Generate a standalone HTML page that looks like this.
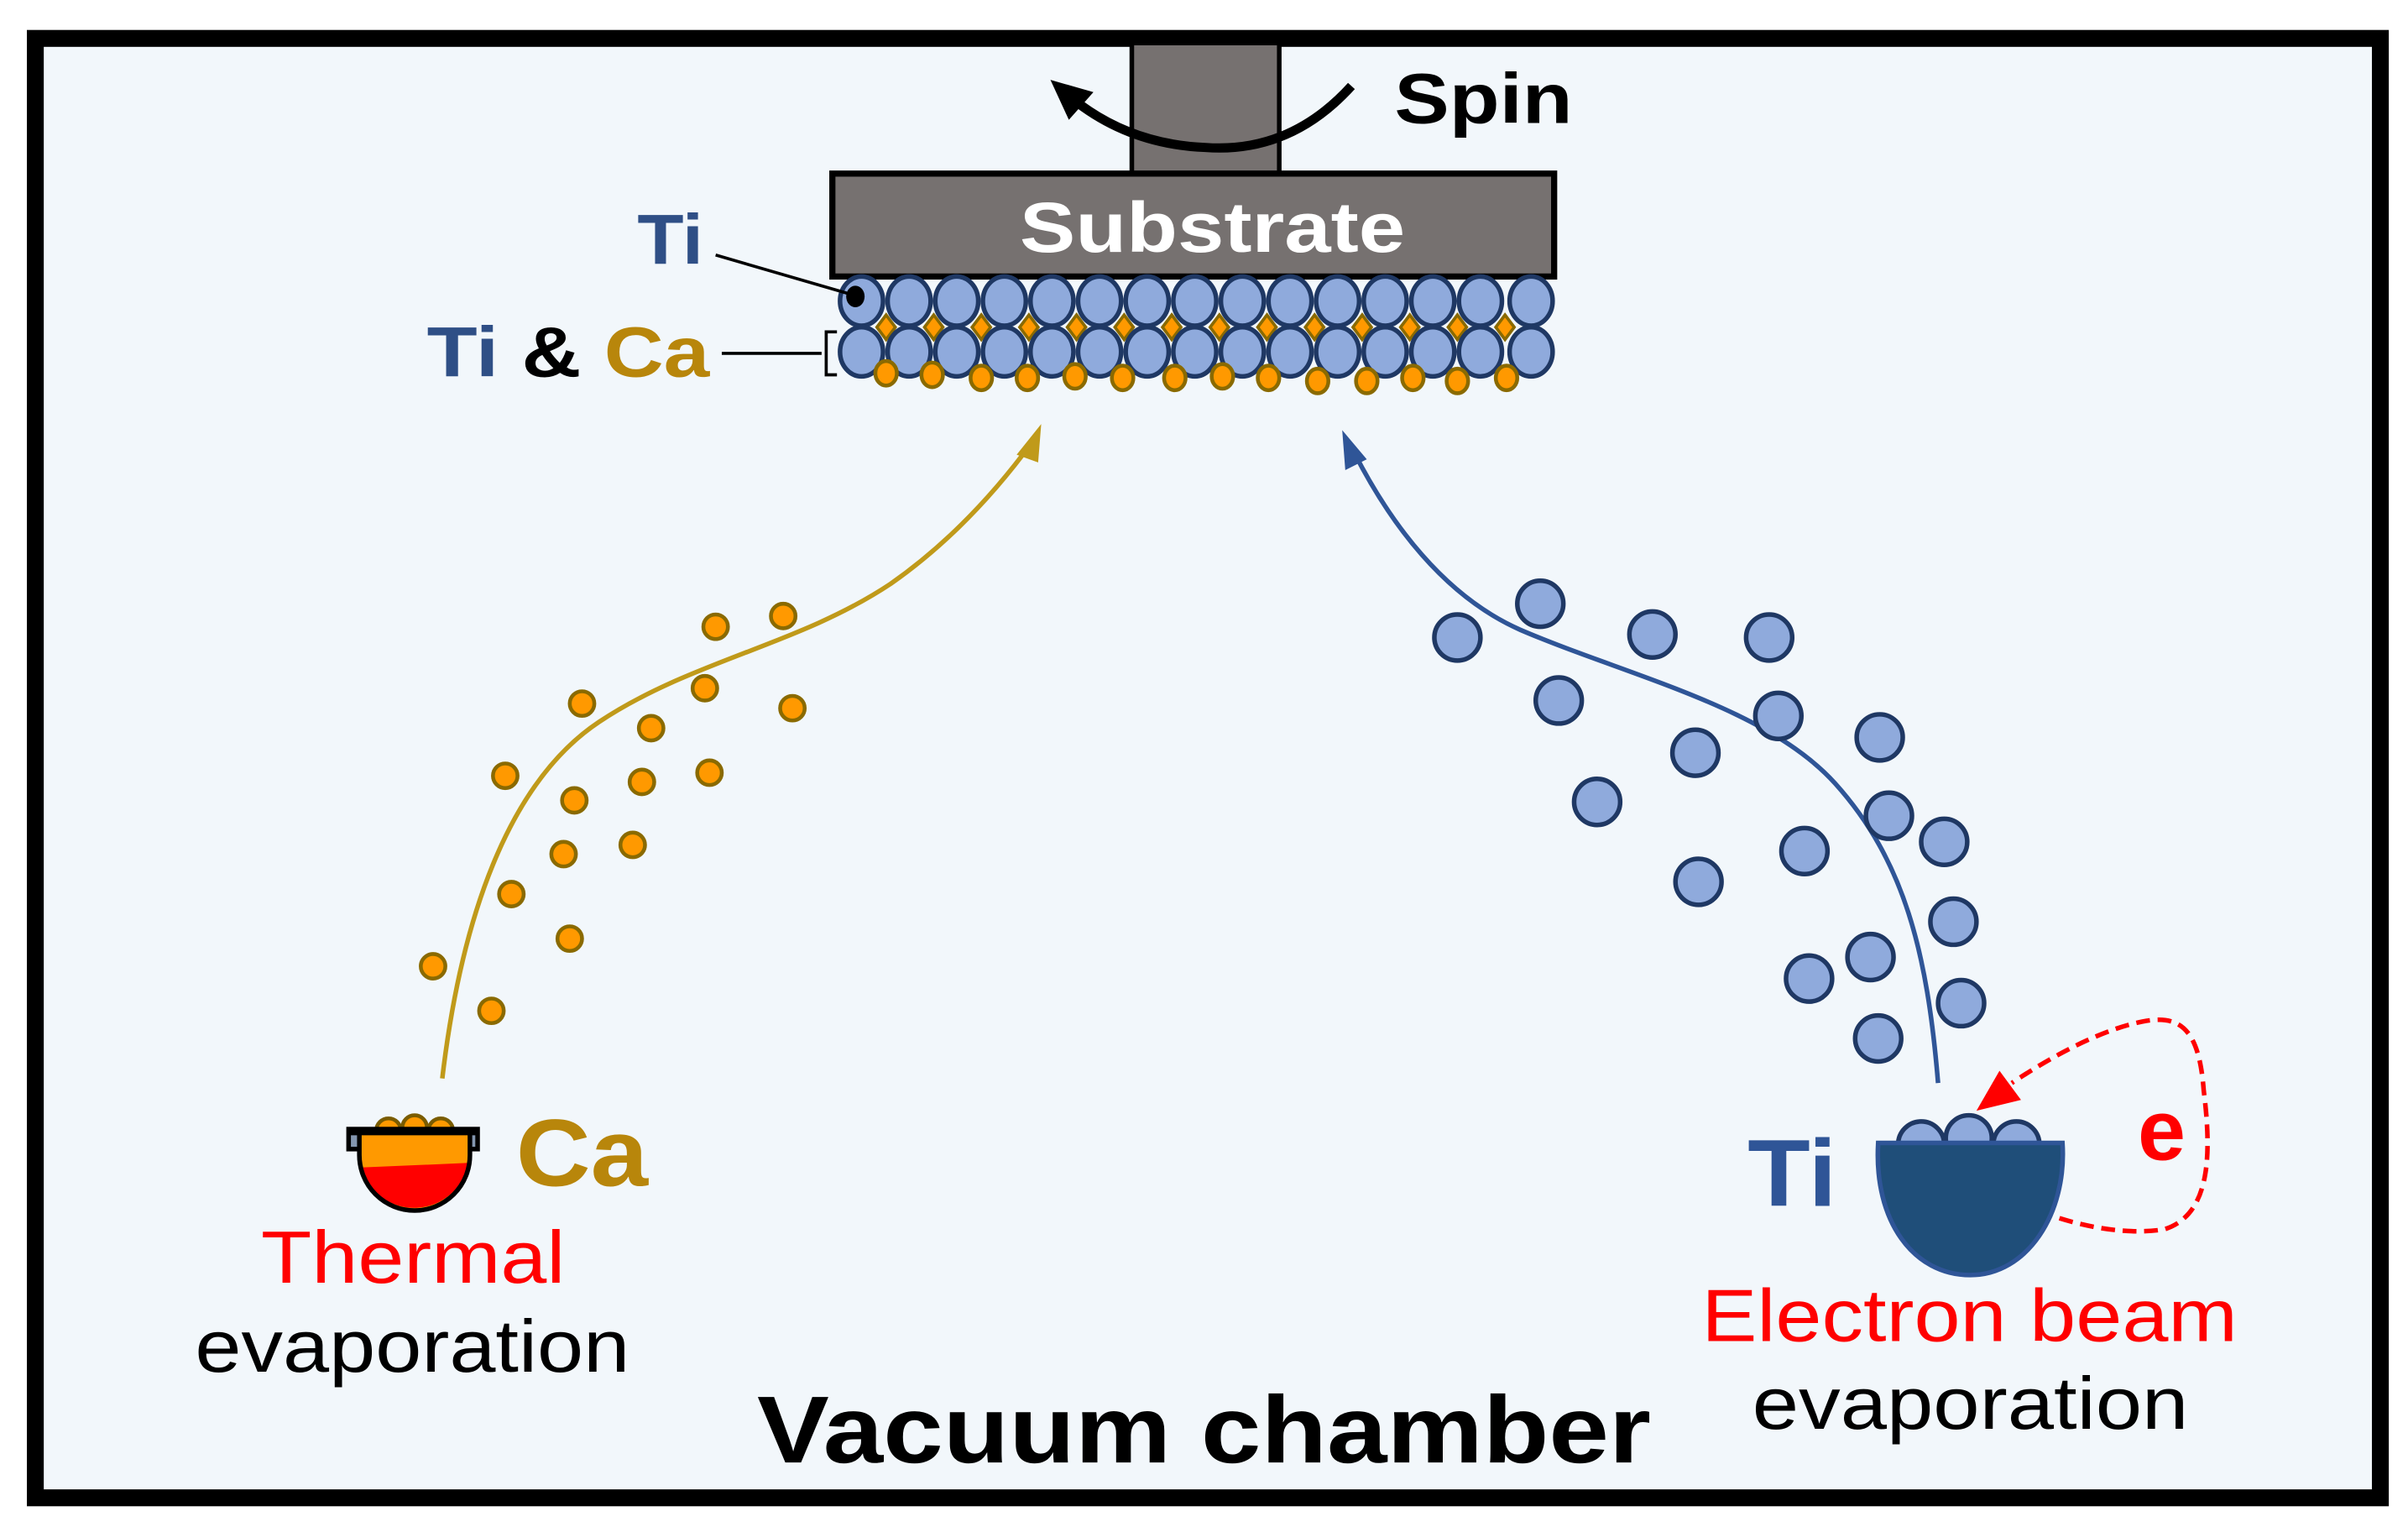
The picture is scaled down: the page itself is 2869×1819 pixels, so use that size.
<!DOCTYPE html>
<html><head><meta charset="utf-8"><style>
html,body{margin:0;padding:0;background:#fff;}
svg{display:block;}
text{font-family:"Liberation Sans",Arial,sans-serif;}
</style></head><body>
<svg width="2869" height="1819" viewBox="0 0 1568 994" preserveAspectRatio="none" xmlns="http://www.w3.org/2000/svg">
<rect x="0" y="0" width="1568" height="994" fill="#fff"/>
<rect x="23" y="25" width="1527" height="950" fill="#f2f7fb" stroke="#000" stroke-width="11"/>
<!-- shaft & substrate -->
<rect x="737" y="28" width="96" height="86" fill="#767170" stroke="#000" stroke-width="3"/>
<rect x="542" y="113" width="470" height="67" fill="#767170" stroke="#000" stroke-width="4"/>
<text x="664" y="164" font-size="46" font-weight="bold" fill="#fff" textLength="251" lengthAdjust="spacingAndGlyphs">Substrate</text>
<!-- spin -->
<path d="M880,56 Q840,100 785,96 Q735,94 698,64" fill="none" stroke="#000" stroke-width="6"/>
<path d="M684,52 L712,60 L696,78z" fill="#000"/>
<text x="908" y="80" font-size="46" font-weight="bold" fill="#000" textLength="116" lengthAdjust="spacingAndGlyphs">Spin</text>
<!-- atoms -->
<g stroke="#1f3864" stroke-width="3" fill="#8faadc">
<g fill="#ff9900" stroke="#8a6a00" stroke-width="2">
<path d="M577,205 l6,8 -6,8 -6,-8z M608,205 l6,8 -6,8 -6,-8z M639,205 l6,8 -6,8 -6,-8z M670,205 l6,8 -6,8 -6,-8z M701,205 l6,8 -6,8 -6,-8z M732,205 l6,8 -6,8 -6,-8z M763,205 l6,8 -6,8 -6,-8z M794,205 l6,8 -6,8 -6,-8z M825,205 l6,8 -6,8 -6,-8z M856,205 l6,8 -6,8 -6,-8z M887,205 l6,8 -6,8 -6,-8z M918,205 l6,8 -6,8 -6,-8z M949,205 l6,8 -6,8 -6,-8z M980,205 l6,8 -6,8 -6,-8z"/>
</g>
<ellipse cx="561" cy="196" rx="14" ry="16"/><ellipse cx="592" cy="196" rx="14" ry="16"/><ellipse cx="623" cy="196" rx="14" ry="16"/><ellipse cx="654" cy="196" rx="14" ry="16"/><ellipse cx="685" cy="196" rx="14" ry="16"/><ellipse cx="716" cy="196" rx="14" ry="16"/><ellipse cx="747" cy="196" rx="14" ry="16"/><ellipse cx="778" cy="196" rx="14" ry="16"/><ellipse cx="809" cy="196" rx="14" ry="16"/><ellipse cx="840" cy="196" rx="14" ry="16"/><ellipse cx="871" cy="196" rx="14" ry="16"/><ellipse cx="902" cy="196" rx="14" ry="16"/><ellipse cx="933" cy="196" rx="14" ry="16"/><ellipse cx="964" cy="196" rx="14" ry="16"/><ellipse cx="997" cy="196" rx="14" ry="16"/>
<ellipse cx="561" cy="229" rx="14" ry="16"/><ellipse cx="592" cy="229" rx="14" ry="16"/><ellipse cx="623" cy="229" rx="14" ry="16"/><ellipse cx="654" cy="229" rx="14" ry="16"/><ellipse cx="685" cy="229" rx="14" ry="16"/><ellipse cx="716" cy="229" rx="14" ry="16"/><ellipse cx="747" cy="229" rx="14" ry="16"/><ellipse cx="778" cy="229" rx="14" ry="16"/><ellipse cx="809" cy="229" rx="14" ry="16"/><ellipse cx="840" cy="229" rx="14" ry="16"/><ellipse cx="871" cy="229" rx="14" ry="16"/><ellipse cx="902" cy="229" rx="14" ry="16"/><ellipse cx="933" cy="229" rx="14" ry="16"/><ellipse cx="964" cy="229" rx="14" ry="16"/><ellipse cx="997" cy="229" rx="14" ry="16"/>
<g fill="#ff9900" stroke="#8a6a00" stroke-width="2.5">
<ellipse cx="577" cy="243" rx="7" ry="8"/><ellipse cx="607" cy="244" rx="7" ry="8"/><ellipse cx="639" cy="246" rx="7" ry="8"/><ellipse cx="669" cy="246" rx="7" ry="8"/><ellipse cx="700" cy="245" rx="7" ry="8"/><ellipse cx="731" cy="246" rx="7" ry="8"/><ellipse cx="765" cy="246" rx="7" ry="8"/><ellipse cx="796" cy="245" rx="7" ry="8"/><ellipse cx="826" cy="246" rx="7" ry="8"/><ellipse cx="858" cy="248" rx="7" ry="8"/><ellipse cx="890" cy="248" rx="7" ry="8"/><ellipse cx="920" cy="246" rx="7" ry="8"/><ellipse cx="949" cy="248" rx="7" ry="8"/><ellipse cx="981" cy="246" rx="7" ry="8"/>
</g>
</g>
<ellipse cx="557" cy="193" rx="6" ry="7" fill="#000"/>
<line x1="466" y1="166" x2="552" y2="191" stroke="#000" stroke-width="2"/>
<text x="415" y="172" font-size="46" font-weight="bold" fill="#2f4f86" textLength="43" lengthAdjust="spacingAndGlyphs">Ti</text>
<text x="278" y="245" font-size="46" font-weight="bold" textLength="184" lengthAdjust="spacingAndGlyphs"><tspan fill="#2f4f86">Ti</tspan><tspan fill="#000"> &amp; </tspan><tspan fill="#b8860b">Ca</tspan></text>
<line x1="470" y1="230" x2="535" y2="230" stroke="#000" stroke-width="2"/>
<path d="M545,216 L538,216 L538,244 L545,244" fill="none" stroke="#000" stroke-width="2"/>
<!-- gold path -->
<path d="M288,702 C300,600 330,510 390,470 C450,430 520,420 580,380 C620,352 650,318 672,288" fill="none" stroke="#c09a1a" stroke-width="3"/>
<path d="M678,276 L662,296 L676,301z" fill="#c09a1a"/>
<g fill="#ff9900" stroke="#8a6a00" stroke-width="2.5">
<circle cx="466" cy="408" r="8"/><circle cx="510" cy="401" r="8"/><circle cx="379" cy="458" r="8"/><circle cx="459" cy="448" r="8"/><circle cx="516" cy="461" r="8"/><circle cx="424" cy="474" r="8"/><circle cx="329" cy="505" r="8"/><circle cx="374" cy="521" r="8"/><circle cx="418" cy="509" r="8"/><circle cx="462" cy="503" r="8"/><circle cx="367" cy="556" r="8"/><circle cx="412" cy="550" r="8"/><circle cx="333" cy="582" r="8"/><circle cx="371" cy="611" r="8"/><circle cx="282" cy="629" r="8"/><circle cx="320" cy="658" r="8"/>
</g>
<!-- blue path -->
<path d="M1262,705 C1255,620 1240,560 1195,510 C1150,460 1060,440 990,410 C940,388 905,340 882,295" fill="none" stroke="#2f5597" stroke-width="3"/>
<path d="M874,280 L876,306 L890,299z" fill="#2f5597"/>
<g fill="#8faadc" stroke="#1f3864" stroke-width="3">
<circle cx="949" cy="415" r="15"/><circle cx="1003" cy="393" r="15"/><circle cx="1076" cy="413" r="15"/><circle cx="1152" cy="415" r="15"/><circle cx="1015" cy="456" r="15"/><circle cx="1158" cy="466" r="15"/><circle cx="1104" cy="490" r="15"/><circle cx="1224" cy="480" r="15"/><circle cx="1040" cy="522" r="15"/><circle cx="1230" cy="531" r="15"/><circle cx="1175" cy="554" r="15"/><circle cx="1266" cy="548" r="15"/><circle cx="1106" cy="574" r="15"/><circle cx="1272" cy="600" r="15"/><circle cx="1218" cy="623" r="15"/><circle cx="1178" cy="637" r="15"/><circle cx="1277" cy="653" r="15"/><circle cx="1223" cy="676" r="15"/>
</g>
<!-- Ca crucible -->
<g stroke="#7a5c00" stroke-width="2.5" fill="#ff9900">
<circle cx="253" cy="736" r="8"/><circle cx="270" cy="734" r="8"/><circle cx="287" cy="736" r="8"/>
</g>
<rect x="227" y="735" width="84" height="13" fill="#8497b0" stroke="#000" stroke-width="3"/>
<path d="M234,738 L306,738 L306,752 A36,36 0 0 1 234,752z" fill="#ff9900"/>
<path d="M235,760 L305,757 A36,36 0 0 1 235,760z" fill="#ff0000"/>
<path d="M234,738 L234,752 A36,36 0 0 0 306,752 L306,738" fill="none" stroke="#000" stroke-width="3"/>
<line x1="227" y1="737" x2="311" y2="737" stroke="#000" stroke-width="4"/>
<text x="336" y="772" font-size="62" font-weight="bold" fill="#b8860b" textLength="86" lengthAdjust="spacingAndGlyphs">Ca</text>
<text x="170" y="835" font-size="48" fill="#ff0000" textLength="198" lengthAdjust="spacingAndGlyphs">Thermal</text>
<text x="127" y="893" font-size="48" fill="#000" textLength="283" lengthAdjust="spacingAndGlyphs">evaporation</text>
<!-- Ti crucible -->
<g fill="#8faadc" stroke="#1f3864" stroke-width="3">
<circle cx="1251" cy="745" r="15"/><circle cx="1313" cy="745" r="15"/><circle cx="1282" cy="741" r="15"/>
</g>
<path d="M1223,744 L1343,744 C1346,790 1320,830 1283,830 C1246,830 1220,795 1223,744z" fill="#1f4e79" stroke="#2f5597" stroke-width="3"/>
<text x="1138" y="785" font-size="62" font-weight="bold" fill="#2f5597" textLength="58" lengthAdjust="spacingAndGlyphs">Ti</text>
<path d="M1341,793 C1370,802 1395,803 1410,800 C1440,790 1440,750 1435,710 C1432,670 1420,660 1395,665 C1370,670 1340,685 1310,705" fill="none" stroke="#ff0000" stroke-width="3" stroke-dasharray="9,5"/>
<path d="M1287,723 L1302,697 L1316,716z" fill="#ff0000"/>
<text x="1392" y="755" font-size="56" font-weight="bold" fill="#ff0000">e</text>
<text x="1108" y="873" font-size="48" fill="#ff0000" textLength="349" lengthAdjust="spacingAndGlyphs">Electron beam</text>
<text x="1141" y="930" font-size="48" fill="#000" textLength="284" lengthAdjust="spacingAndGlyphs">evaporation</text>
<text x="493" y="952" font-size="62" font-weight="bold" fill="#000" textLength="582" lengthAdjust="spacingAndGlyphs">Vacuum chamber</text>
</svg>
</body></html>
